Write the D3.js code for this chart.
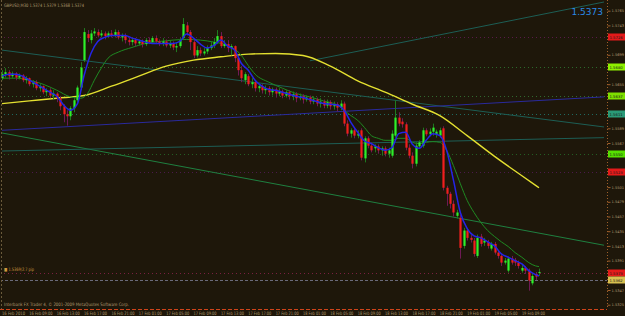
<!DOCTYPE html>
<html>
<head>
<meta charset="utf-8">
<script src="https://cdn.jsdelivr.net/npm/d3@7"></script>
<style>
  body { margin: 0; background: #1e170a; }
  svg { display: block; }
  text { font-family: 'DejaVu Sans', sans-serif; }
</style>
</head>
<body>
<div id="chart"></div>
<script>
// GBPUSD M30 bars
const open = [1.5664,1.5670,1.5673,1.5667,1.5671,1.5665,1.5668,1.5661,1.5664,1.5655,1.5658,1.5649,1.5652,1.5643,1.5646,1.5638,1.5641,1.5634,1.5622,1.5610,
  1.5607,1.5619,1.5631,1.5650,1.5691,1.5730,1.5721,1.5731,1.5733,1.5728,1.5731,1.5727,1.5731,1.5728,1.5733,1.5725,1.5728,1.5721,1.5718,1.5721,
  1.5716,1.5719,1.5715,1.5721,1.5718,1.5724,1.5719,1.5716,1.5719,1.5713,1.5716,1.5710,1.5712,1.5724,1.5743,1.5733,1.5718,1.5698,1.5706,1.5701,
  1.5704,1.5709,1.5713,1.5718,1.5727,1.5712,1.5715,1.5709,1.5712,1.5694,1.5676,1.5661,1.5667,1.5655,1.5658,1.5649,1.5652,1.5646,1.5649,1.5643,
  1.5647,1.5641,1.5644,1.5638,1.5643,1.5637,1.5640,1.5634,1.5637,1.5632,1.5635,1.5629,1.5632,1.5626,1.5629,1.5623,1.5628,1.5622,1.5625,1.5620,
  1.5626,1.5596,1.5581,1.5586,1.5578,1.5586,1.5544,1.5574,1.5563,1.5559,1.5562,1.5556,1.5559,1.5551,1.5548,1.5578,1.5605,1.5599,1.5595,1.5560,
  1.5548,1.5536,1.5562,1.5563,1.5586,1.5580,1.5584,1.5580,1.5578,1.5589,1.5500,1.5491,1.5476,1.5458,1.5455,1.5413,1.5436,1.5425,1.5421,1.5398,
  1.5427,1.5418,1.5419,1.5409,1.5416,1.5403,1.5398,1.5388,1.5376,1.5394,1.5392,1.5388,1.5376,1.5380,1.5376,1.5357,1.5371,1.5374]
const high = [1.5676,1.5679,1.5676,1.5674,1.5673,1.5671,1.5670,1.5667,1.5665,1.5661,1.5661,1.5655,1.5653,1.5649,1.5649,1.5646,1.5643,1.5637,1.5625,1.5616,
  1.5622,1.5634,1.5653,1.5688,1.5739,1.5736,1.5736,1.5739,1.5737,1.5736,1.5734,1.5734,1.5736,1.5737,1.5736,1.5731,1.5731,1.5725,1.5724,1.5724,
  1.5722,1.5722,1.5724,1.5725,1.5727,1.5728,1.5722,1.5724,1.5722,1.5721,1.5719,1.5718,1.5724,1.5754,1.5748,1.5736,1.5721,1.5712,1.5710,1.5709,
  1.5713,1.5718,1.5724,1.5736,1.5733,1.5721,1.5721,1.5715,1.5713,1.5697,1.5682,1.5673,1.5670,1.5664,1.5661,1.5656,1.5655,1.5653,1.5652,1.5650,
  1.5650,1.5649,1.5647,1.5646,1.5646,1.5644,1.5643,1.5641,1.5640,1.5638,1.5638,1.5637,1.5635,1.5634,1.5632,1.5632,1.5631,1.5629,1.5628,1.5631,
  1.5629,1.5601,1.5589,1.5589,1.5586,1.5589,1.5577,1.5577,1.5568,1.5565,1.5565,1.5562,1.5562,1.5560,1.5586,1.5631,1.5613,1.5604,1.5598,1.5565,
  1.5553,1.5568,1.5571,1.5590,1.5589,1.5589,1.5596,1.5587,1.5590,1.5592,1.5503,1.5494,1.5481,1.5467,1.5460,1.5440,1.5440,1.5430,1.5425,1.5430,
  1.5431,1.5425,1.5422,1.5419,1.5419,1.5407,1.5401,1.5395,1.5397,1.5398,1.5395,1.5391,1.5385,1.5383,1.5379,1.5371,1.5374,1.5379]
const low = [1.5661,1.5665,1.5662,1.5664,1.5661,1.5662,1.5658,1.5656,1.5652,1.5650,1.5646,1.5644,1.5640,1.5637,1.5634,1.5632,1.5628,1.5616,1.5598,1.5593,
  1.5601,1.5613,1.5628,1.5646,1.5688,1.5718,1.5716,1.5727,1.5725,1.5725,1.5722,1.5724,1.5725,1.5725,1.5722,1.5719,1.5716,1.5713,1.5713,1.5712,
  1.5713,1.5710,1.5712,1.5715,1.5715,1.5715,1.5712,1.5712,1.5710,1.5709,1.5706,1.5703,1.5709,1.5721,1.5728,1.5706,1.5694,1.5695,1.5697,1.5698,
  1.5700,1.5706,1.5709,1.5715,1.5709,1.5709,1.5703,1.5698,1.5688,1.5668,1.5658,1.5655,1.5652,1.5649,1.5644,1.5643,1.5641,1.5640,1.5638,1.5638,
  1.5635,1.5637,1.5634,1.5635,1.5632,1.5631,1.5628,1.5631,1.5626,1.5629,1.5625,1.5625,1.5622,1.5620,1.5619,1.5619,1.5617,1.5617,1.5614,1.5616,
  1.5592,1.5577,1.5575,1.5574,1.5574,1.5541,1.5538,1.5559,1.5553,1.5553,1.5551,1.5548,1.5547,1.5545,1.5545,1.5575,1.5592,1.5590,1.5556,1.5544,
  1.5529,1.5532,1.5559,1.5560,1.5577,1.5577,1.5578,1.5575,1.5575,1.5496,1.5473,1.5469,1.5457,1.5454,1.5394,1.5409,1.5421,1.5418,1.5397,1.5395,
  1.5412,1.5413,1.5409,1.5406,1.5400,1.5394,1.5383,1.5385,1.5373,1.5385,1.5383,1.5379,1.5373,1.5371,1.5346,1.5354,1.5362,1.5368]
const close = [1.5670,1.5673,1.5667,1.5671,1.5665,1.5668,1.5661,1.5664,1.5655,1.5658,1.5649,1.5652,1.5643,1.5646,1.5638,1.5641,1.5634,1.5622,1.5610,1.5607,
  1.5619,1.5631,1.5650,1.5680,1.5733,1.5724,1.5731,1.5734,1.5728,1.5731,1.5727,1.5731,1.5728,1.5733,1.5725,1.5728,1.5721,1.5718,1.5721,1.5716,
  1.5719,1.5715,1.5721,1.5718,1.5724,1.5719,1.5716,1.5719,1.5713,1.5716,1.5710,1.5712,1.5721,1.5745,1.5733,1.5718,1.5698,1.5706,1.5701,1.5704,
  1.5709,1.5713,1.5718,1.5727,1.5712,1.5715,1.5709,1.5712,1.5694,1.5676,1.5664,1.5670,1.5655,1.5658,1.5649,1.5652,1.5646,1.5649,1.5643,1.5647,
  1.5641,1.5644,1.5638,1.5643,1.5637,1.5640,1.5634,1.5637,1.5632,1.5635,1.5629,1.5632,1.5626,1.5629,1.5623,1.5628,1.5622,1.5625,1.5620,1.5626,
  1.5596,1.5581,1.5586,1.5578,1.5581,1.5545,1.5574,1.5563,1.5556,1.5562,1.5556,1.5559,1.5551,1.5556,1.5581,1.5605,1.5596,1.5595,1.5560,1.5548,
  1.5536,1.5563,1.5568,1.5586,1.5580,1.5584,1.5590,1.5584,1.5586,1.5500,1.5491,1.5476,1.5463,1.5463,1.5410,1.5436,1.5425,1.5422,1.5401,1.5425,
  1.5416,1.5421,1.5413,1.5416,1.5403,1.5398,1.5388,1.5391,1.5394,1.5388,1.5388,1.5383,1.5380,1.5376,1.5361,1.5368,1.5367,1.5374]

// moving averages (bar index -> value)
const fastBars = [0,2,4,6,8,10,12,14,16,18,20,22,24,26,28,30,32,34,36,38,40,42,44,46,48,50,52,54,56,58,60,62,64,66,68,70,72,74,76,78,
  80,82,84,86,88,90,92,94,96,98,100,102,104,106,108,110,112,114,116,118,120,122,124,126,128,130,132,134,136,138,140,142,144,146,148,150,152,154,156,157]
const fastMA = [1.5667,1.5670,1.5670,1.5667,1.5661,1.5655,1.5649,1.5643,1.5637,1.5624,1.5616,1.5625,1.5668,1.5701,1.5719,1.5725,1.5728,1.5728,1.5728,1.5724,
  1.5721,1.5718,1.5716,1.5716,1.5716,1.5716,1.5719,1.5730,1.5724,1.5715,1.5709,1.5713,1.5721,1.5712,1.5706,1.5686,1.5676,1.5661,1.5652,1.5647,
  1.5646,1.5643,1.5640,1.5637,1.5635,1.5632,1.5629,1.5626,1.5625,1.5624,1.5616,1.5598,1.5583,1.5570,1.5566,1.5560,1.5556,1.5560,1.5581,1.5583,
  1.5565,1.5559,1.5571,1.5581,1.5578,1.5556,1.5511,1.5463,1.5439,1.5428,1.5425,1.5419,1.5413,1.5401,1.5396,1.5391,1.5386,1.5376,1.5370,1.5368]
const slowBars = [0,4,8,12,16,20,23,25,27,29,31,34,38,42,46,50,54,58,62,66,70,72,74,78,82,86,90,94,98,100,
  102,104,106,108,110,112,114,116,118,120,122,124,126,128,130,132,134,136,138,140,142,144,146,148,150,152,154,156,157]
const slowMA = [1.5664,1.5664,1.5661,1.5655,1.5646,1.5636,1.5634,1.5641,1.5661,1.5679,1.5694,1.5703,1.5710,1.5716,1.5719,1.5721,1.5722,1.5721,1.5718,1.5713,
  1.5698,1.5683,1.5670,1.5658,1.5649,1.5641,1.5636,1.5630,1.5624,1.5616,1.5608,1.5601,1.5590,1.5578,1.5574,1.5571,1.5571,1.5574,1.5574,1.5568,
  1.5566,1.5568,1.5569,1.5568,1.5556,1.5533,1.5506,1.5481,1.5463,1.5448,1.5436,1.5427,1.5419,1.5412,1.5403,1.5396,1.5388,1.5383,1.5382]
const longBars = [0,8,16,24,32,40,48,56,64,72,80,88,96,104,112,120,128,136,144,152,157]
const longMA = [1.5626,1.5630,1.5634,1.5638,1.5652,1.5667,1.5682,1.5691,1.5696,1.5700,1.5701,1.5698,1.5682,1.5660,1.5643,1.5625,1.5608,1.5578,1.5547,1.5518,1.5500]

// horizontal levels and their colours
const levels = [1.5726, 1.5680, 1.5637, 1.5611, 1.5550, 1.5523, 1.5373, 1.5362]
const levelColors = ['#5a1a4a', '#2b6b2b', '#2f6a2f', '#1f6a5f', '#235f23', '#4a1a4a', '#7a2040', '#6a6a7a']
const tagColors = ['#e41a1a', '#8ef000', '#7ee000', '#2a9a78', '#56e000', '#e41a1a', '#e41a1a', '#d8c050']
const levelDash = ['1,3', '1,3', '1,3', '1,3', '1,3', '1,3', '1,3', '3,2']

// trend lines: [bar, price] to [bar, price]
const trendLines = [
  [[0, 1.5706], [176, 1.5591]],
  [[0, 1.5582], [176, 1.5414]],
  [[0, 1.5586], [176, 1.5636]],
  [[90, 1.5690], [176, 1.5778]],
  [[0, 1.5555], [176, 1.5575]]
]
const trendColors = ['#1d5e55', '#1f8040', '#2a2a9c', '#1d5e55', '#1d5e55']

const priceTicks = d3.range(0, 21).map(k => +(1.5325 + k * 0.0022).toFixed(4))
const timeLabels = ['16 Feb 2010', '16 Feb 09:00', '16 Feb 13:00', '16 Feb 17:00', '16 Feb 21:00', '17 Feb 01:00', '17 Feb 05:00',
  '17 Feb 09:00', '17 Feb 13:00', '17 Feb 17:00', '17 Feb 21:00', '18 Feb 01:00', '18 Feb 05:00', '18 Feb 09:00',
  '18 Feb 13:00', '18 Feb 17:00', '18 Feb 21:00', '19 Feb 01:00', '19 Feb 05:00', '19 Feb 09:00']

const W = 625
const H = 316
const plotRight = 607
const plotBottom = 309

const x = d3.scaleLinear().domain([0, 157]).range([2, 539])
const y = d3.scaleLinear().domain([1.5325, 1.5765]).range([304.7, 10.7])

const svg = d3.select('#chart').append('svg')
  .attr('width', W)
  .attr('height', H)

svg.append('rect').attr('width', W).attr('height', H).attr('fill', '#1e170a')

svg.append('clipPath').attr('id', 'clip')
  .append('rect').attr('x', 1).attr('y', 1).attr('width', plotRight - 1).attr('height', plotBottom - 1)

const plot = svg.append('g').attr('clip-path', 'url(#clip)')

// levels
plot.selectAll('line.level').data(levels).enter().append('line')
  .attr('class', 'level')
  .attr('x1', 0).attr('x2', plotRight)
  .attr('y1', d => Math.round(y(d)) + 0.5).attr('y2', d => Math.round(y(d)) + 0.5)
  .attr('stroke', (d, i) => levelColors[i])
  .attr('stroke-dasharray', (d, i) => levelDash[i])

// trend lines
plot.selectAll('line.trend').data(trendLines).enter().append('line')
  .attr('class', 'trend')
  .attr('x1', d => x(d[0][0])).attr('y1', d => y(d[0][1]))
  .attr('x2', d => x(d[1][0])).attr('y2', d => y(d[1][1]))
  .attr('stroke', (d, i) => trendColors[i])
  .attr('stroke-width', 1)

const line = d3.line().x(d => x(d[0])).y(d => y(d[1])).curve(d3.curveMonotoneX)

plot.append('path')
  .datum(longBars.map((b, i) => [b, longMA[i]]))
  .attr('d', line)
  .attr('fill', 'none').attr('stroke', '#e4e030').attr('stroke-width', 1.4)

plot.append('path')
  .datum(slowBars.map((b, i) => [b, slowMA[i]]))
  .attr('d', line)
  .attr('fill', 'none').attr('stroke', '#1f8a22').attr('stroke-width', 1)

// candles
const bars = d3.range(open.length)
const candle = plot.append('g').selectAll('g').data(bars).enter().append('g')

candle.append('line')
  .attr('x1', i => Math.round(x(i)) + 0.5).attr('x2', i => Math.round(x(i)) + 0.5)
  .attr('y1', i => y(high[i])).attr('y2', i => y(low[i]))
  .attr('stroke', i => close[i] >= open[i] ? '#1f7a1f' : '#6e1a55')

candle.append('rect')
  .attr('x', i => Math.round(x(i)) - 0.6)
  .attr('width', 2.2)
  .attr('y', i => y(Math.max(open[i], close[i])))
  .attr('height', i => Math.max(1, Math.abs(y(open[i]) - y(close[i]))))
  .attr('fill', i => close[i] >= open[i] ? '#2ef02a' : '#f01e1e')

plot.append('path')
  .datum(fastBars.map((b, i) => [b, fastMA[i]]))
  .attr('d', line)
  .attr('fill', 'none').attr('stroke', '#2424e6').attr('stroke-width', 1.5)

// frame
svg.append('line').attr('x1', 1.5).attr('x2', 1.5).attr('y1', 0).attr('y2', plotBottom)
  .attr('stroke', '#6a5a3a').attr('stroke-dasharray', '2,2')
svg.append('line').attr('x1', 0).attr('x2', plotRight).attr('y1', plotBottom + 0.5).attr('y2', plotBottom + 0.5)
  .attr('stroke', '#d0441a').attr('stroke-dasharray', '4,2')
svg.append('line').attr('x1', plotRight + 0.5).attr('x2', plotRight + 0.5).attr('y1', 0).attr('y2', plotBottom)
  .attr('stroke', '#a0602a').attr('stroke-dasharray', '1,2')

// price axis; ticks hidden under a level tag are dropped
const tagYs = levels.map(d => y(d))
const shownTicks = priceTicks.filter(t => tagYs.every(ty => Math.abs(y(t) - ty) > 6))
const axisG = svg.append('g').attr('transform', `translate(${plotRight + 0.5},0)`)
axisG.call(d3.axisRight(y).tickValues(shownTicks).tickSize(3).tickFormat(d3.format('.4f')))
axisG.select('.domain').remove()
axisG.selectAll('.tick line').attr('stroke', '#a0602a')
axisG.selectAll('.tick text').attr('fill', '#b09a70').attr('font-size', 3.6).attr('x', 4)

// price tags for levels
const tags = svg.selectAll('g.tag').data(levels).enter().append('g')
  .attr('transform', d => `translate(${plotRight + 1},${Math.round(y(d))})`)
tags.append('rect').attr('x', 0).attr('y', -3.5).attr('width', 17).attr('height', 7)
  .attr('fill', (d, i) => tagColors[i])
tags.append('text').attr('x', 1.5).attr('y', 1.5).attr('font-size', 3.8)
  .attr('fill', '#1a1a1a').text(d => d.toFixed(4))

// time axis labels
svg.selectAll('text.time').data(timeLabels).enter().append('text')
  .attr('class', 'time')
  .attr('x', (d, i) => x(i * 8))
  .attr('y', 315)
  .attr('font-size', 4.6)
  .attr('textLength', 23).attr('lengthAdjust', 'spacingAndGlyphs')
  .attr('fill', '#b09a70')
  .text(d => d)

// header / footer texts
svg.append('text').attr('x', 4).attr('y', 7).attr('font-size', 4.6).attr('fill', '#b09a70')
  .attr('textLength', 80).attr('lengthAdjust', 'spacingAndGlyphs')
  .text('GBPUSD,M30  1.5374 1.5379 1.5368 1.5374')
svg.append('text').attr('x', 603).attr('y', 15).attr('font-size', 9).attr('text-anchor', 'end')
  .attr('fill', '#2a8ae8').text('1.5373')
svg.append('text').attr('x', 4).attr('y', 271).attr('font-size', 4.6).attr('fill', '#d09a40')
  .attr('textLength', 30).attr('lengthAdjust', 'spacingAndGlyphs')
  .text('■ 1.5369/2.7 pip')
svg.append('text').attr('x', 4).attr('y', 306).attr('font-size', 4.6).attr('fill', '#b09a70')
  .attr('textLength', 125).attr('lengthAdjust', 'spacingAndGlyphs')
  .text('Interbank FX Trader 4, © 2001-2009 MetaQuotes Software Corp.')
</script>
</body>
</html>
